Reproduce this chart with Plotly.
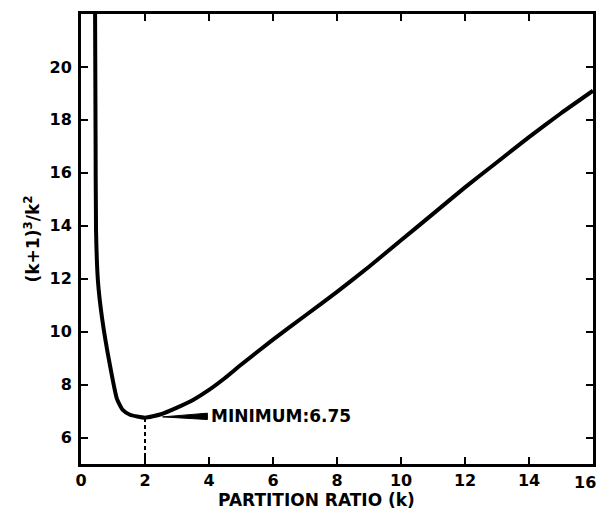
import plotly.graph_objects as go

# Data
k_values = [0.44, 0.455, 0.47, 0.53, 0.66, 0.9, 1.12, 1.3, 1.53, 2.0, 2.5, 3.0, 3.5, 4.0, 4.5, 5.0, 6.0, 7.0, 8.0,
            9.0, 10.0, 11.0, 12.0, 13.0, 14.0, 15.0, 16.0]
ratio_values = [22.0, 17.5, 13.8, 11.9, 10.5, 8.76, 7.47, 7.05, 6.86, 6.75, 6.88, 7.13, 7.42, 7.8, 8.25, 8.75,
                9.7, 10.6, 11.5, 12.45, 13.45, 14.45, 15.45, 16.4, 17.35, 18.25, 19.1]
x_ticks = [0, 2, 4, 6, 8, 10, 12, 14, 16]
y_ticks = [6, 8, 10, 12, 14, 16, 18, 20]
min_label = "MINIMUM:6.75"
x_title = "PARTITION RATIO (k)"
y_title = "(k+1)<sup>3</sup>/k<sup>2</sup>"

FONT = "DejaVu Sans"
W, H = 601, 515
M = dict(l=81, r=8, t=14, b=51)
TICKFONT = dict(family=FONT, size=16, color="black", weight="bold")

fig = go.Figure()
fig.add_trace(go.Scatter(
    x=k_values, y=ratio_values, mode="lines",
    line=dict(color="black", width=4, shape="spline", smoothing=0.5),
    showlegend=False, hoverinfo="skip",
))

# minimum point
i_min = ratio_values.index(min(ratio_values))
kmin, ymin = k_values[i_min], ratio_values[i_min]

fig.add_shape(type="line", x0=kmin, x1=kmin, y0=5, y1=ymin,
              line=dict(color="black", width=2, dash="4px,3px"), layer="below")

# wedge pointer
fig.add_shape(type="path",
              path=f"M {kmin+0.55},{ymin+0.03} L {kmin+1.95},{ymin-0.07} L {kmin+1.95},{ymin+0.17} Z",
              fillcolor="black", line=dict(color="black", width=1))

fig.add_annotation(x=kmin + 2.0, y=ymin + 0.05, text=min_label, showarrow=False,
                   xanchor="left", yanchor="middle",
                   font=dict(family=FONT, size=17, color="black", weight="bold"))

# x-axis title placed as in the reference
plot_h = H - M["t"] - M["b"]
fig.add_annotation(x=0.46, xref="x domain", y=-(500 - (H - M["b"])) / plot_h, yref="y domain",
                   yanchor="middle", text=x_title, showarrow=False,
                   font=dict(family=FONT, size=17, color="black", weight="bold"))

# last x tick label drawn right-anchored at the axis end so it stays inside the page
fig.add_annotation(x=x_ticks[-1], xref="x", y=0, yref="y domain", xanchor="right", yanchor="top",
                   xshift=5, yshift=-7, text=str(x_ticks[-1]), showarrow=False, font=TICKFONT)

axis_common = dict(
    showline=True, linecolor="black", linewidth=3, mirror="ticks",
    ticks="inside", ticklen=7, tickwidth=2, tickcolor="black",
    showgrid=False, zeroline=False, automargin=False,
    tickfont=TICKFONT,
)

x_ticktext = [str(v) for v in x_ticks]
x_ticktext[-1] = ""

fig.update_xaxes(range=[0, 16], tickvals=x_ticks, ticktext=x_ticktext, **axis_common)
fig.update_yaxes(range=[5, 22], tickvals=y_ticks, ticktext=[str(v) for v in y_ticks],
                 ticklabelstandoff=3,
                 title=dict(text=y_title, font=dict(family=FONT, size=17, color="black", weight="bold"),
                            standoff=6),
                 **axis_common)

fig.update_layout(
    width=W, height=H,
    margin=M,
    paper_bgcolor="white", plot_bgcolor="white",
)

fig.write_html("out.html", config={"displayModeBar": False},
               post_script="document.body.style.margin='0px';")
